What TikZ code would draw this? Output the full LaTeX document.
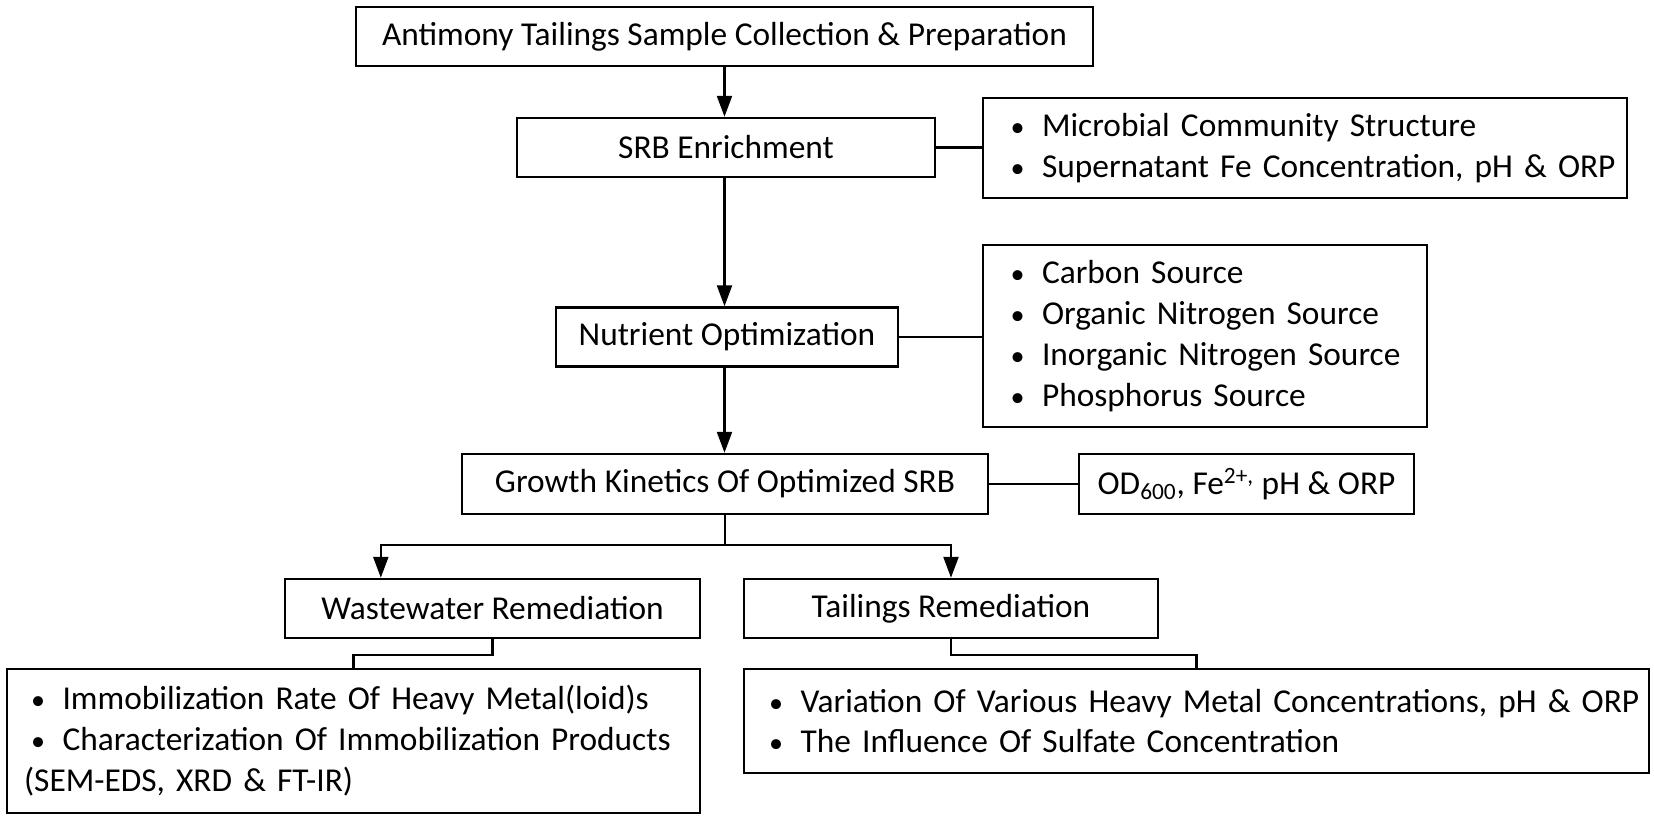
\documentclass[tikz,border=0pt]{standalone}
\usepackage{fontspec}
\setmainfont{Carlito}
\usepackage{tikz}
\usetikzlibrary{arrows.meta,positioning,calc}
\newcommand{\bul}[1][0.55cm]{\hspace*{#1}\makebox[0.63cm][l]{\fontsize{16}{16}\selectfont\textbullet}\ignorespaces}

\begin{document}
\begin{tikzpicture}[x=0.02cm,y=-0.02cm,
box/.style={draw=black,line width=1.4pt,minimum height=1.18cm,inner sep=0pt,font=\fontsize{19}{23.3}\selectfont},
lst/.style={draw=black,line width=1.4pt,align=left,inner xsep=0pt,inner ysep=0pt,font=\fontsize{19}{23.3}\selectfont},
arr/.style={line width=1.3pt,-{Triangle[length=4.2mm,width=3mm]}},
ln/.style={line width=1.3pt}
]
\useasboundingbox (0,0) rectangle (1654,818);
% main column
\node[box,minimum width=14.74cm] (col) at (724.5,36.5) {Antimony Tailings Sample Collection \& Preparation};
\node[box,minimum width=8.36cm] (srb) at (726,147.5) {SRB Enrichment};
\node[box,minimum width=6.84cm] (nut) at (727,337) {Nutrient Optimization};
\node[box,minimum width=10.52cm,minimum height=1.2cm] (kin) at (725,484) {Growth Kinetics Of Optimized SRB};
\node[box,minimum width=8.3cm] (ww) at (492.5,608.5) {Wastewater Remediation};
\node[box,minimum width=8.28cm] (tr) at (951,608.5) {Tailings Remediation};
% side boxes
\node[lst,text width=12.88cm,minimum height=2.0cm] (srbl) at (1305,148) {\bul Microbial Community Structure\\\bul Supernatant Fe Concentration, pH \& ORP};
\node[lst,text width=8.88cm,minimum height=3.64cm] (nutl) at (1205,336) {\bul Carbon Source\\\bul Organic Nitrogen Source\\\bul Inorganic Nitrogen Source\\\bul Phosphorus Source};
\node[box,minimum width=6.7cm,minimum height=1.2cm] (od) at (1246.5,484) {OD\textsubscript{600}, Fe\textsuperscript{2+,} pH \& ORP};
\node[lst,text width=13.86cm,minimum height=2.88cm] (wwl) at (353.5,741) {\bul[0.48cm] Immobilization Rate Of Heavy Metal(loid)s\\\bul[0.48cm] Characterization Of Immobilization Products\\\hspace*{0.34cm}(SEM-EDS, XRD \& FT-IR)};
\node[lst,text width=18.1cm,minimum height=2.08cm] (trl) at (1196.5,721) {\bul[0.5cm] Variation Of Various Heavy Metal Concentrations, pH \& ORP\\\bul[0.5cm] The Influence Of Sulfate Concentration};
\coordinate (split) at (725,545);

\draw[arr] (col.south) -- (col.south |- srb.north);
\draw[arr] (col.south |- srb.south) -- (col.south |- nut.north);
\draw[arr] (col.south |- nut.south) -- (col.south |- kin.north);
\draw[ln] (srb.east) -- (srb.east -| srbl.west);
\draw[ln] (nut.east) -- (nut.east -| nutl.west);
\draw[ln] (kin.east) -- (od.west);
\draw[ln] (kin.south) -- (split);
\draw[arr] (split) -| ($(ww.north west)+(97,0)$);
\draw[arr] (split) -| (tr.north);
\draw[ln] (ww.south) -- ++(0,16) -| (wwl.north);
\draw[ln] (tr.south) -- ++(0,16) -| (trl.north);
\end{tikzpicture}
\end{document}
